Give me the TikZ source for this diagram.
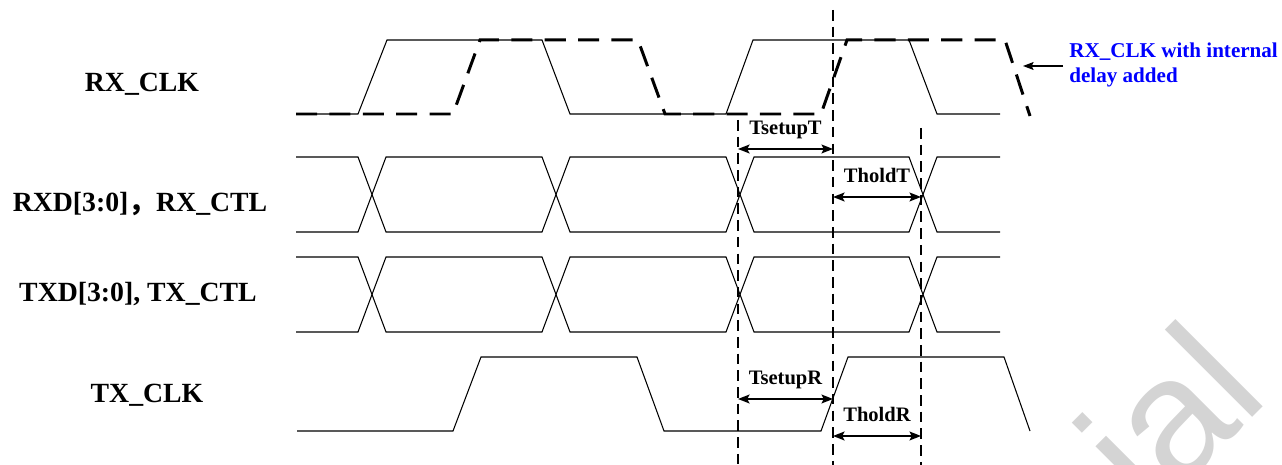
\documentclass[tikz,border=0pt]{standalone}
\usepackage{fontspec}
\setmainfont{Liberation Serif}
\setsansfont{Liberation Sans}
\newfontfamily\cjk{Noto Sans CJK SC}
\usetikzlibrary{arrows.meta}

\begin{document}
\begin{tikzpicture}
  [x=0.02cm,y=-0.02cm,every node/.style={inner sep=0pt}]
  \tikzstyle{wave} = [line width=0.6pt]
  \tikzstyle{delayed} = [line width=1.7pt,dash pattern=on 12pt off 7pt]
  \tikzstyle{marker} = [line width=0.8pt,dash pattern=on 6pt off 3.5pt]
  \tikzstyle{dimarrow} = [line width=1.2pt,{Stealth[length=6.5pt,width=5pt,inset=1.2pt]}-{Stealth[length=6.5pt,width=5pt,inset=1.2pt]}]
  \tikzstyle{signame} = [anchor=base,font=\fontsize{15.8}{18}\selectfont\bfseries]
  \tikzstyle{tlabel} = [anchor=base,yshift=8.3pt,font=\fontsize{11.7}{14}\selectfont\bfseries]
  \useasboundingbox (0,0) rectangle (1282,465);

  % watermark
  \node[rotate=45,anchor=base east,text=black!17,font=\fontsize{97}{97}\selectfont\sffamily] (wm) at (1272,398) {ial};

  % signal names
  \node[signame] (rxclk) at (142,92) {RX\_CLK};
  \node[signame] (rxd) at (140,212) {RXD[3:0]{\cjk ，}RX\_CTL};
  \node[signame] (txd) at (138,302) {TXD[3:0], TX\_CTL};
  \node[signame] (txclk) at (147,403) {TX\_CLK};

  % clocks
  \draw[wave] (296,114) -- (358,114) -- (387,40) -- (542,40) -- (570,114) -- (726,114)
    -- (753,40) -- (909,40) -- (937,114) -- (1000,114);
  \draw[delayed] (296,114) -- (453,114) -- (480,40) -- (638,40) -- (665,114) -- (821,114)
    -- (847,40) -- (1005,40) -- (1030,116);
  \draw[wave] (297,431) -- (453,431) -- (481,357) -- (637,357) -- (664,431) -- (821,431)
    -- (848,357) -- (1004,357) -- (1030,431);

  % data buses
  \foreach \hi/\lo in {157/232,257/332} {
    \draw[wave] (296,\hi) -- (358,\hi) -- (386,\lo) -- (542,\lo) -- (570,\hi) -- (726,\hi)
      -- (754,\lo) -- (909,\lo) -- (937,\hi) -- (1000,\hi);
    \draw[wave] (296,\lo) -- (358,\lo) -- (386,\hi) -- (542,\hi) -- (570,\lo) -- (726,\lo)
      -- (754,\hi) -- (909,\hi) -- (937,\lo) -- (1000,\lo);
  }

  % sampling markers
  \foreach \x/\top in {738/120,833/10,921/128}
    \draw[marker] (\x,\top) -- (\x,465);

  % setup / hold spans
  \foreach \lbl/\xa/\xb/\y in {TsetupT/738/833/149,TholdT/833/921/197,TsetupR/738/833/399,TholdR/833/921/436}
    \draw[dimarrow] (\xa,\y) -- node[tlabel] {\lbl} (\xb,\y);

  % note
  \node[anchor=north west,align=left,text=blue,font=\fontsize{12}{14.2}\selectfont\bfseries] (note) at (1069,43)
    {RX\_CLK with internal\\delay added};
  \coordinate (tip) at (1023,66);
  \draw[line width=0.7pt,-{Stealth[length=6pt,width=4.5pt,inset=1pt]}] (note.west |- tip) ++(-6,0) -- (tip);
\end{tikzpicture}
\end{document}
